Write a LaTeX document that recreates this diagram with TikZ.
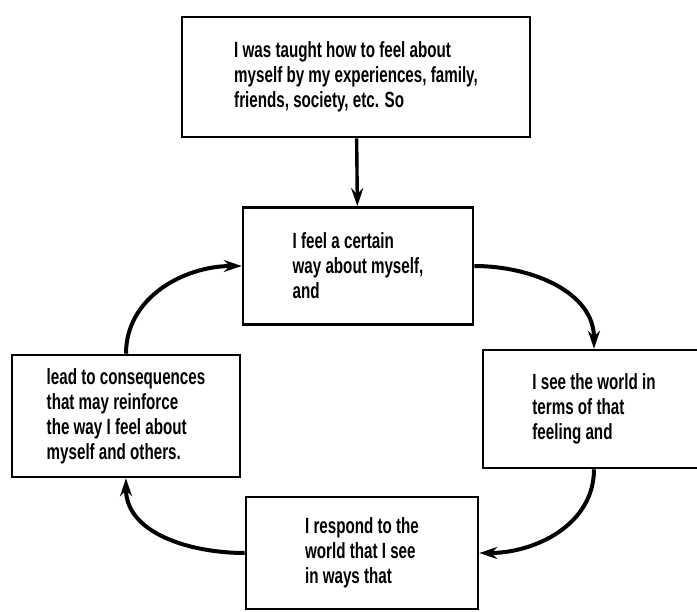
\documentclass[tikz,border=0pt]{standalone}
\usepackage{fontspec}
\setmainfont{Liberation Sans}[FakeStretch=0.69]
\usetikzlibrary{arrows.meta}

\begin{document}
\begin{tikzpicture}[x=1pt,y=-1pt]

    % Box style
    \tikzset{
        box/.style={draw, line width=2.6pt, align=left, inner sep=0pt,
            font=\bfseries\fontsize{22}{25}\selectfont},
        loop/.style={line width=4pt, -{Stealth[length=18pt,width=12pt]}}
    }

    \useasboundingbox (0,0) rectangle (697,612);

    % Boxes
    \node[box, minimum width=348pt, minimum height=120pt] (TAUGHT) at (356,77)
        {I was taught how to feel about\\myself by my experiences, family,\\friends, society, etc. So};
    \node[box, minimum width=230pt, minimum height=117pt] (FEEL) at (358,266)
        {I feel a certain\\way about myself,\\and};
    \node[box, minimum width=222pt, minimum height=118pt] (SEE) at (594,409)
        {I see the world in\\terms of that\\feeling and};
    \node[box, minimum width=232pt, minimum height=112pt] (RESPOND) at (362,553)
        {I respond to the\\world that I see\\in ways that};
    \node[box, minimum width=228pt, minimum height=122pt] (LEAD) at (126,416)
        {lead to consequences\\that may reinforce\\the way I feel about\\myself and others.};

    % Arrows
    \draw[loop, line width=3.4pt] (TAUGHT) -- (FEEL);
    \draw[loop] (FEEL.east) to[out=0, in=90] (SEE.north);
    \draw[loop] (SEE.south) to[out=-90, in=0] (RESPOND.east);
    \draw[loop] (RESPOND.west) to[out=180, in=-90] (LEAD.south);
    \draw[loop] (LEAD.north) to[out=90, in=180] (FEEL.west);
\end{tikzpicture}
\end{document}
